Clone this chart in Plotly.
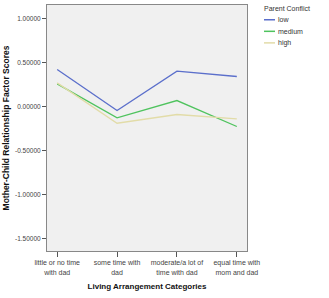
import plotly.graph_objects as go

categories = ["little or no time<br>with dad", "some time with<br>dad",
              "moderate/a lot of<br>time with dad", "equal time with<br>mom and dad"]
series_names = ["low", "medium", "high"]
low_vals = [0.42, -0.045, 0.40, 0.34]
medium_vals = [0.257, -0.128, 0.068, -0.226]
high_vals = [0.268, -0.189, -0.09, -0.139]
y_tickvals = [1.0, 0.5, 0.0, -0.5, -1.0, -1.5]
y_ticktext = ["1.00000", "0.50000", "0.00000", "-0.50000", "-1.00000", "-1.50000"]
colors = ["#5b6fcb", "#4fc35e", "#e2dca8"]

x_idx = list(range(len(categories)))
fig = go.Figure()
for name, vals, c in zip(series_names, [low_vals, medium_vals, high_vals], colors):
    fig.add_trace(go.Scatter(x=x_idx, y=vals, mode="lines", name=name,
                             line=dict(color=c, width=1.3), showlegend=False,
                             hoverinfo="skip"))

font = "Liberation Sans, Arial, sans-serif"
fig.update_layout(
    width=329, height=298,
    margin=dict(l=47, r=82, t=5, b=47),
    paper_bgcolor="white", plot_bgcolor="#f0f0f0",
    hovermode=False,
    font=dict(family=font, size=7, color="#333333"),
    xaxis=dict(range=[-0.17, 3.17], tickvals=x_idx, ticktext=categories,
               showgrid=False, zeroline=False, ticks="outside", ticklen=5,
               tickcolor="#555555", showline=True, linecolor="#888888", mirror=True,
               tickfont=dict(size=7, color="#444444"), automargin=False,
               title=dict(text="<b>Living Arrangement Categories</b>",
                          font=dict(size=8, color="#111111"), standoff=8)),
    yaxis=dict(range=[-1.636, 1.15], tickvals=y_tickvals, ticktext=y_ticktext,
               showgrid=False, zeroline=False, ticks="outside", ticklen=4,
               tickcolor="#555555", showline=True, linecolor="#888888", mirror=True,
               tickfont=dict(size=6.5, color="#444444"), automargin=False,
               title=dict(text="<b>Mother-Child Relationship Factor Scores</b>",
                          font=dict(size=8.5, color="#111111"), standoff=4)),
)

# manual legend
lx0 = 1.075
fig.add_annotation(x=lx0, y=0.985, xref="paper", yref="paper", text="Parent Conflict",
                   showarrow=False, xanchor="left", yanchor="middle",
                   font=dict(size=7, color="#333333"))
ys = [0.94, 0.893, 0.846]
for name, c, yy in zip(series_names, colors, ys):
    fig.add_shape(type="line", xref="paper", yref="paper", x0=lx0 + 0.01, x1=lx0 + 0.065,
                  y0=yy, y1=yy, line=dict(color=c, width=1.5))
    fig.add_annotation(x=lx0 + 0.07, y=yy, xref="paper", yref="paper", text=name,
                       showarrow=False, xanchor="left", yanchor="middle",
                       font=dict(size=7, color="#333333"))

fig.write_html("out.html", config={"displayModeBar": False, "staticPlot": True},
               post_script="document.body.style.margin='0';document.body.style.overflow='hidden';")
